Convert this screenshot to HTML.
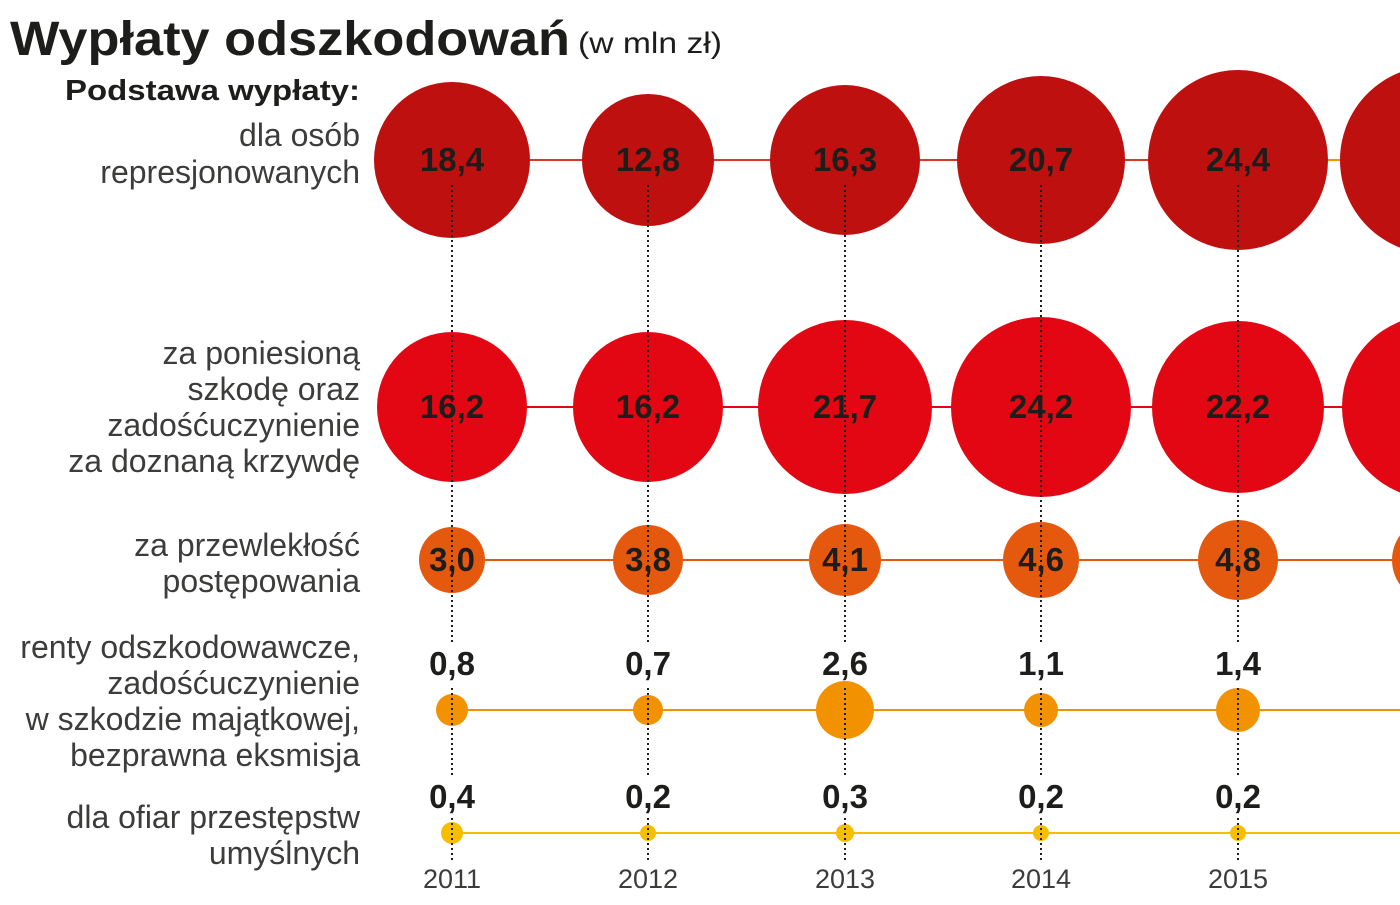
<!DOCTYPE html>
<html><head><meta charset="utf-8"><style>
body{margin:0;width:1400px;height:900px;background:#fff;overflow:hidden;font-family:"Liberation Sans",sans-serif}
</style></head><body>
<svg width="1400" height="900" xmlns="http://www.w3.org/2000/svg" font-family="Liberation Sans, sans-serif">
<text x="10" y="55" font-size="48" font-weight="bold" fill="#1d1d1b" textLength="560" lengthAdjust="spacingAndGlyphs">Wypłaty odszkodowań</text>
<text x="578" y="53" font-size="30" fill="#1d1d1b" textLength="144" lengthAdjust="spacingAndGlyphs">(w mln zł)</text>
<text x="360" y="100" font-size="29" font-weight="bold" fill="#1d1d1b" text-anchor="end" textLength="295" lengthAdjust="spacingAndGlyphs">Podstawa wypłaty:</text>
<g font-size="32" fill="#3c3c3b" text-anchor="end">
<text x="360" y="146">dla osób</text><text x="360" y="183">represjonowanych</text>
<text x="360" y="364">za poniesioną</text><text x="360" y="400">szkodę oraz</text><text x="360" y="436">zadośćuczynienie</text><text x="360" y="472">za doznaną krzywdę</text>
<text x="360" y="556">za przewlekłość</text><text x="360" y="592">postępowania</text>
<text x="360" y="658">renty odszkodowawcze,</text><text x="360" y="694">zadośćuczynienie</text><text x="360" y="730">w szkodzie majątkowej,</text><text x="360" y="766">bezprawna eksmisja</text>
<text x="360" y="828">dla ofiar przestępstw</text><text x="360" y="864">umyślnych</text>
</g>
<line x1="452" y1="160" x2="1327" y2="160" stroke="#d8372a" stroke-width="2"/>
<line x1="1327" y1="160" x2="1400" y2="160" stroke="#f39200" stroke-width="2"/>
<line x1="452" y1="407" x2="1400" y2="407" stroke="#e30613" stroke-width="2"/>
<line x1="452" y1="560" x2="1400" y2="560" stroke="#e5590f" stroke-width="2"/>
<line x1="452" y1="710" x2="1400" y2="710" stroke="#f39200" stroke-width="2"/>
<line x1="452" y1="833" x2="1400" y2="833" stroke="#f7be00" stroke-width="2"/>
<g fill="#bf1010">
<circle cx="452" cy="160" r="78"/><circle cx="648" cy="160" r="66"/><circle cx="845" cy="160" r="75"/><circle cx="1041" cy="160" r="84"/><circle cx="1238" cy="160" r="90"/><circle cx="1434" cy="160" r="94"/></g>
<g fill="#e30613">
<circle cx="452" cy="407" r="75"/><circle cx="648" cy="407" r="75"/><circle cx="845" cy="407" r="87"/><circle cx="1041" cy="407" r="90"/><circle cx="1238" cy="407" r="86"/><circle cx="1434" cy="407" r="92"/></g>
<g fill="#e5590f">
<circle cx="452" cy="560" r="33"/><circle cx="648" cy="560" r="35"/><circle cx="845" cy="560" r="36"/><circle cx="1041" cy="560" r="38"/><circle cx="1238" cy="560" r="40"/><circle cx="1434" cy="560" r="42"/></g>
<g fill="#f39200">
<circle cx="452" cy="710" r="16"/><circle cx="648" cy="710" r="15"/><circle cx="845" cy="710" r="29"/><circle cx="1041" cy="710" r="17"/><circle cx="1238" cy="710" r="22"/></g>
<g fill="#f7be00">
<circle cx="452" cy="833" r="11"/><circle cx="648" cy="833" r="8"/><circle cx="845" cy="833" r="9"/><circle cx="1041" cy="833" r="8"/><circle cx="1238" cy="833" r="8"/></g>
<g stroke="#1d1d1b" stroke-width="2" stroke-dasharray="2,3">
<path d="M452 185V642M452 688V775M452 818V860"/>
<path d="M648 185V642M648 688V775M648 818V860"/>
<path d="M845 185V642M845 688V775M845 818V860"/>
<path d="M1041 185V642M1041 688V775M1041 818V860"/>
<path d="M1238 185V642M1238 688V775M1238 818V860"/>
</g>
<g font-size="33" font-weight="bold" fill="#1d1d1b" text-anchor="middle">
<text x="452" y="171">18,4</text><text x="648" y="171">12,8</text><text x="845" y="171">16,3</text><text x="1041" y="171">20,7</text><text x="1238" y="171">24,4</text>
<text x="452" y="418">16,2</text><text x="648" y="418">16,2</text><text x="845" y="418">21,7</text><text x="1041" y="418">24,2</text><text x="1238" y="418">22,2</text>
<text x="452" y="571">3,0</text><text x="648" y="571">3,8</text><text x="845" y="571">4,1</text><text x="1041" y="571">4,6</text><text x="1238" y="571">4,8</text>
<text x="452" y="675">0,8</text><text x="648" y="675">0,7</text><text x="845" y="675">2,6</text><text x="1041" y="675">1,1</text><text x="1238" y="675">1,4</text>
<text x="452" y="808">0,4</text><text x="648" y="808">0,2</text><text x="845" y="808">0,3</text><text x="1041" y="808">0,2</text><text x="1238" y="808">0,2</text>
</g>
<g font-size="27" fill="#3c3c3b" text-anchor="middle">
<text x="452" y="888">2011</text><text x="648" y="888">2012</text><text x="845" y="888">2013</text><text x="1041" y="888">2014</text><text x="1238" y="888">2015</text>
</g>
</svg>
</body></html>
